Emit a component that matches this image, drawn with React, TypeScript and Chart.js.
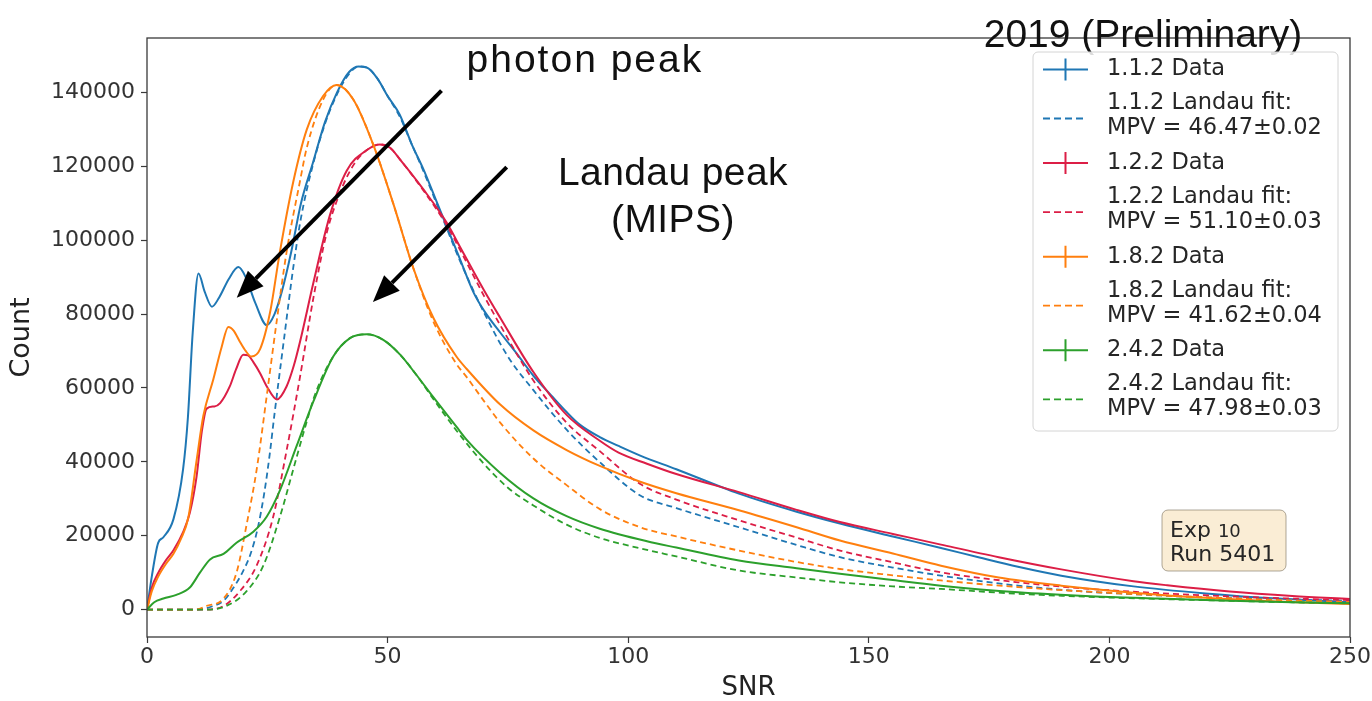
import React, { useEffect, useRef } from 'react';
import { Chart, registerables } from 'chart.js';

Chart.register(...registerables);

// ---- axis ticks ----
const xTicks = [0, 50, 100, 150, 200, 250];
const yTicks = [0, 20000, 40000, 60000, 80000, 100000, 120000, 140000];
const xRange = [0, 250];
const yRange = [-7400, 154700];

// ---- 1.1.2 ----
const snrData112 = [0, 1, 2.3, 3.4, 5.5, 7.5, 8.5, 9.5, 10.7, 12, 13.5, 15, 17, 19, 20.5, 22.5, 24.9, 26.5, 28, 30, 32, 34.5, 37, 39.5, 42, 44, 46, 48, 50, 52.5, 55, 57.5, 60, 62.5, 65, 67.8, 70, 73.4, 77, 80.3, 84, 87.2, 90, 94.1, 98, 102.5, 110, 123, 135, 144, 155, 165, 173, 181, 190, 205, 220, 235, 250];
const countData112 = [0, 9000, 18000, 19600, 24500, 38000, 52000, 75000, 91000, 86000, 82000, 84500, 89500, 92700, 90000, 83000, 77000, 80000, 86000, 97000, 110000, 121000, 132000, 140000, 145500, 147000, 146500, 143500, 139000, 134000, 126000, 119000, 111000, 103000, 95000, 86000, 81000, 75000, 69000, 63300, 58000, 53500, 50000, 46700, 44300, 41700, 38000, 31400, 26500, 23300, 19800, 16700, 14100, 11600, 9200, 6300, 4400, 3000, 2000];
const snrFit112 = [0, 10, 13.8, 16, 18, 20, 21.5, 23, 24.3, 25.5, 26.5, 28.5, 30.4, 32, 34.5, 37, 39.5, 42, 44, 46, 48, 50, 52.5, 55, 57.5, 60, 62.5, 65, 70, 75, 80.3, 87.2, 94.1, 102.5, 110, 123, 135, 144, 155, 165, 181, 195, 205, 220, 235, 250];
const countFit112 = [0, 0, 1000, 2500, 6000, 10500, 15000, 22000, 31000, 42000, 53000, 73500, 92600, 106000, 120500, 131500, 139500, 145000, 147000, 146500, 143500, 139000, 133500, 126000, 118500, 110500, 102500, 94500, 80500, 68500, 59400, 48700, 39900, 30900, 27500, 22300, 17500, 14200, 11400, 9200, 6500, 4900, 4200, 3300, 2800, 2400];

// ---- 1.2.2 ----
const snrData122 = [0, 1, 2.35, 4, 5.5, 7.5, 8.9, 10.3, 11.4, 12.4, 14, 15.2, 17.2, 18.5, 20, 21, 22.1, 23.5, 24.9, 27, 29, 30.5, 31.8, 34.6, 38, 41.5, 45.7, 48.4, 50.5, 52.6, 57.4, 62.3, 65, 70, 73.4, 80.3, 87.2, 94.1, 98, 103.9, 110, 123, 135, 144, 155, 165, 177, 190, 205, 212, 225, 238, 250];
const countData122 = [0, 6000, 10000, 13500, 16100, 21000, 26200, 36000, 48300, 54400, 55000, 55900, 60400, 65000, 69000, 68800, 67000, 64000, 60400, 56900, 60400, 66000, 72500, 88600, 106700, 118800, 124400, 125900, 125000, 121800, 113800, 104700, 98300, 86500, 79000, 64300, 52700, 45700, 42500, 39500, 36700, 31800, 27000, 23700, 20500, 17600, 14200, 10900, 7700, 6600, 4900, 3700, 2900];
const snrFit122 = [0, 12, 15.9, 19.3, 22.8, 26.2, 29, 31.8, 34.6, 37.3, 40, 43, 45.7, 48.4, 50.5, 52.6, 57.4, 62.3, 65, 70, 73.4, 80.3, 87.2, 94.1, 102.5, 110, 123, 135, 144, 155, 165, 181, 195, 210, 225, 238, 250];
const countFit122 = [0, 0, 1000, 5000, 12000, 25000, 43000, 63000, 84500, 101700, 112500, 120500, 124400, 125900, 125000, 121800, 113500, 104000, 97500, 85000, 77000, 62000, 50600, 42900, 34000, 29800, 24200, 19500, 16000, 12800, 10100, 7400, 5700, 4500, 3600, 3000, 2600];

// ---- 1.8.2 ----
const snrData182 = [0, 1, 2.35, 4, 5.5, 7, 8.6, 10.3, 11.7, 13.8, 15.5, 16.9, 18, 19.3, 20.5, 21.7, 23.5, 25.6, 27.6, 30.4, 33.2, 36.6, 39.4, 42.9, 47, 51.2, 55.3, 59.5, 64.3, 66.4, 73.4, 80.3, 87.2, 94.1, 102.5, 110, 123, 135, 144, 155, 165, 177, 190, 205, 220, 235, 250];
const countData182 = [0, 5000, 9000, 12500, 15100, 19000, 25000, 40300, 52400, 62400, 71000, 76500, 75500, 72500, 70000, 68500, 70500, 80600, 96700, 115800, 129900, 139000, 142000, 138000, 125900, 109800, 92600, 79000, 68500, 65200, 55500, 48500, 43200, 38900, 34600, 31500, 26900, 22300, 18700, 15200, 11900, 8700, 6500, 4600, 3200, 2200, 1500];
const snrFit182 = [0, 10, 12.4, 15.9, 18.6, 20.7, 22.8, 24.9, 27, 29, 31.8, 33.2, 36.6, 39.4, 42.9, 47, 51.2, 55.3, 59.5, 64.3, 66.4, 70, 73.4, 80.3, 87.2, 94.1, 102.5, 110, 123, 135, 144, 155, 165, 181, 195, 210, 225, 238, 250];
const countFit182 = [0, 0, 1000, 3000, 10000, 23000, 38000, 58000, 78500, 96700, 116000, 125000, 138000, 142000, 138000, 125900, 109800, 92600, 78000, 66500, 63000, 56500, 50600, 40900, 33700, 27200, 22300, 19800, 16000, 12900, 11000, 9300, 7900, 6100, 4900, 3900, 3100, 2500, 2100];

// ---- 2.4.2 ----
const snrData242 = [0, 1.5, 3.4, 6.1, 8.9, 11, 13.1, 15.9, 18.6, 22.1, 24.9, 27.6, 31.1, 34.6, 38.7, 42.2, 45.7, 49.1, 52.6, 56, 59.5, 64.3, 66.4, 73.4, 80.3, 87.2, 94.1, 103.9, 110, 123, 135, 144, 155, 165, 181, 195, 210, 225, 238, 250];
const countData242 = [0, 2000, 3000, 4000, 6000, 10000, 13600, 15100, 18100, 21100, 25200, 32200, 44300, 56400, 68500, 73500, 74500, 73000, 69000, 63500, 57500, 49500, 46000, 37000, 30100, 25300, 21900, 18500, 16800, 13300, 11200, 9700, 8000, 6500, 4700, 3700, 3000, 2400, 2000, 1700];
const snrFit242 = [0, 12, 16.5, 20.7, 24.2, 27.6, 30.4, 33, 35, 38.7, 42.2, 45.7, 49.1, 52.6, 56, 59.5, 64.3, 70, 75, 80.3, 87.2, 94.1, 102.5, 110, 123, 135, 144, 155, 165, 181, 195, 210, 225, 238, 250];
const countFit242 = [0, 0, 1000, 5000, 12000, 25000, 38000, 50000, 58500, 68500, 73500, 74500, 73000, 69000, 63500, 57000, 48500, 39500, 33000, 28200, 23000, 19400, 16600, 14400, 10600, 8700, 7400, 6300, 5600, 4300, 3500, 2900, 2400, 2000, 1700];

// ---- labels ----
const seriesNames = ['1.1.2', '1.2.2', '1.8.2', '2.4.2'];
const mpvLabels = ['MPV = 46.47\u00b10.02', 'MPV = 51.10\u00b10.03', 'MPV = 41.62\u00b10.04', 'MPV = 47.98\u00b10.03'];
const colors = ['#1f77b4', '#dc1e46', '#ff7f0e', '#2ca02c'];

// annotation anchors in data coordinates
const photonArrow = { fromX: 61.2, fromY: 140450, toX: 18.65, toY: 84400 };
const landauArrow = { fromX: 74.75, fromY: 119770, toX: 46.95, toY: 83240 };
const photonText = { x: 91.0, y: 145600, text: 'photon peak', spacing: '2px' };
const landauText1 = { x: 109.3, y: 114900, text: 'Landau peak', spacing: '0.4px' };
const landauText2 = { x: 109.3, y: 102300, text: '(MIPS)', spacing: '0.4px' };

const zip = (xs: number[], ys: number[]) => xs.map((x, i) => ({ x, y: ys[i] }));

function drawArrow(ctx: CanvasRenderingContext2D, x1: number, y1: number, x2: number, y2: number) {
  const ang = Math.atan2(y2 - y1, x2 - x1);
  const headLen = 27;
  const headHalf = 11;
  const bx = x2 - headLen * Math.cos(ang);
  const by = y2 - headLen * Math.sin(ang);
  ctx.strokeStyle = '#000';
  ctx.fillStyle = '#000';
  ctx.lineWidth = 4;
  ctx.lineCap = 'butt';
  ctx.setLineDash([]);
  ctx.beginPath();
  ctx.moveTo(x1, y1);
  ctx.lineTo(bx, by);
  ctx.stroke();
  ctx.beginPath();
  ctx.moveTo(x2, y2);
  ctx.lineTo(bx + headHalf * Math.sin(ang), by - headHalf * Math.cos(ang));
  ctx.lineTo(bx - headHalf * Math.sin(ang), by + headHalf * Math.cos(ang));
  ctx.closePath();
  ctx.fill();
}

const overlayPlugin = {
  id: 'overlay',
  afterDatasetsDraw(chart: any) {
    const { ctx, chartArea: a, scales } = chart;
    const xs = scales.x;
    const ys = scales.y;
    ctx.save();
    // frame
    ctx.strokeStyle = '#3a3a3a';
    ctx.lineWidth = 1.3;
    ctx.setLineDash([]);
    ctx.strokeRect(a.left, a.top, a.right - a.left, a.bottom - a.top);

    // arrows
    for (const ar of [photonArrow, landauArrow]) {
      drawArrow(
        ctx,
        xs.getPixelForValue(ar.fromX),
        ys.getPixelForValue(ar.fromY),
        xs.getPixelForValue(ar.toX),
        ys.getPixelForValue(ar.toY)
      );
    }

    // annotation texts
    ctx.fillStyle = '#111';
    ctx.font = '39px "Liberation Sans", Arial, sans-serif';
    ctx.textAlign = 'center';
    ctx.textBaseline = 'alphabetic';
    for (const t of [photonText, landauText1, landauText2]) {
      (ctx as any).letterSpacing = t.spacing;
      ctx.fillText(t.text, xs.getPixelForValue(t.x), ys.getPixelForValue(t.y));
    }
    (ctx as any).letterSpacing = '0px';
    ctx.restore();
  },
  afterDraw(chart: any) {
    const { ctx, chartArea: a } = chart;
    ctx.save();
    // note above the frame
    ctx.fillStyle = '#111';
    ctx.font = '39px "Liberation Sans", Arial, sans-serif';
    ctx.textAlign = 'center';
    ctx.textBaseline = 'alphabetic';
    ctx.fillText('2019 (Preliminary)', a.right - 207, a.top + 9);

    // legend
    const bx = a.right - 317;
    const by = a.top + 14;
    const bw = 305;
    const bh = 379;
    ctx.beginPath();
    ctx.roundRect(bx, by, bw, bh, 5);
    ctx.fillStyle = 'rgba(255,255,255,0.85)';
    ctx.fill();
    ctx.strokeStyle = '#d4d4d4';
    ctx.lineWidth = 1;
    ctx.stroke();

    ctx.font = '22.5px "DejaVu Sans", sans-serif';
    ctx.textAlign = 'left';
    ctx.textBaseline = 'middle';
    for (let i = 0; i < seriesNames.length; i++) {
      const base = a.top + 31.5 + i * 93.6;
      const c = colors[i];
      // data handle: line with error-bar cross
      ctx.strokeStyle = c;
      ctx.lineWidth = 2;
      ctx.setLineDash([]);
      ctx.beginPath();
      ctx.moveTo(bx + 10, base);
      ctx.lineTo(bx + 55, base);
      ctx.moveTo(bx + 32.5, base - 11);
      ctx.lineTo(bx + 32.5, base + 11);
      ctx.stroke();
      // fit handle: dashed
      ctx.lineWidth = 1.8;
      ctx.setLineDash([7, 4]);
      ctx.beginPath();
      ctx.moveTo(bx + 10, base + 49);
      ctx.lineTo(bx + 53, base + 49);
      ctx.stroke();
      ctx.setLineDash([]);
      ctx.fillStyle = '#262626';
      ctx.fillText(seriesNames[i] + ' Data', bx + 74, base);
      ctx.fillText(seriesNames[i] + ' Landau fit:', bx + 74, base + 34);
      ctx.fillText(mpvLabels[i], bx + 74, base + 59);
    }

    // Exp / Run box
    const ex = a.right - 188;
    const ey = a.top + 472;
    ctx.beginPath();
    ctx.roundRect(ex, ey, 124, 61, 6);
    ctx.fillStyle = 'rgba(245,222,179,0.55)';
    ctx.fill();
    ctx.strokeStyle = 'rgba(120,110,90,0.6)';
    ctx.lineWidth = 1;
    ctx.stroke();
    ctx.fillStyle = '#262626';
    ctx.textBaseline = 'alphabetic';
    ctx.font = '22px "DejaVu Sans", sans-serif';
    ctx.fillText('Exp', ex + 8, ey + 27);
    const w = ctx.measureText('Exp ').width;
    ctx.font = '18px "DejaVu Sans", sans-serif';
    ctx.fillText('10', ex + 8 + w, ey + 27);
    ctx.font = '22px "DejaVu Sans", sans-serif';
    ctx.fillText('Run 5401', ex + 8, ey + 51);
    ctx.restore();
  },
};

export default function App() {
  const canvasRef = useRef<HTMLCanvasElement | null>(null);

  useEffect(() => {
    const canvas = canvasRef.current;
    if (!canvas) return;
    Chart.defaults.font.family = '"DejaVu Sans", sans-serif';

    const groups = [
      [snrData112, countData112, snrFit112, countFit112],
      [snrData122, countData122, snrFit122, countFit122],
      [snrData182, countData182, snrFit182, countFit182],
      [snrData242, countData242, snrFit242, countFit242],
    ];
    const datasets: any[] = [];
    groups.forEach((g, i) => {
      datasets.push({
        label: seriesNames[i] + ' Data',
        data: zip(g[0], g[1]),
        borderColor: colors[i],
        borderWidth: 2,
        pointRadius: 0,
        fill: false,
        cubicInterpolationMode: 'monotone',
        order: 20 - datasets.length,
      });
      datasets.push({
        label: seriesNames[i] + ' Landau fit',
        data: zip(g[2], g[3]),
        borderColor: colors[i],
        borderWidth: 1.8,
        borderDash: [6, 4],
        pointRadius: 0,
        fill: false,
        cubicInterpolationMode: 'monotone',
        order: 20 - datasets.length,
      });
    });

    const chart = new Chart(canvas, {
      type: 'line',
      data: { datasets },
      options: {
        responsive: false,
        animation: false,
        layout: { padding: { left: 0, right: 22, top: 38, bottom: 0 } },
        plugins: {
          legend: { display: false },
          tooltip: { enabled: false },
        },
        scales: {
          x: {
            type: 'linear',
            min: xRange[0],
            max: xRange[1],
            afterBuildTicks: (s: any) => {
              s.ticks = xTicks.map((v) => ({ value: v }));
            },
            afterFit: (s: any) => {
              s.height = 64;
            },
            grid: { drawOnChartArea: false, drawTicks: true, tickLength: 6, tickColor: '#3a3a3a', tickWidth: 1.2 },
            border: { display: false },
            ticks: {
              color: '#333',
              font: { size: 22 },
              padding: 1,
              maxRotation: 0,
              callback: (v: any) => String(v),
            },
            title: {
              display: true,
              text: 'SNR',
              color: '#222',
              font: { size: 26, lineHeight: 1 },
              padding: { top: 0, bottom: 0 },
            },
          },
          y: {
            type: 'linear',
            min: yRange[0],
            max: yRange[1],
            afterBuildTicks: (s: any) => {
              s.ticks = yTicks.map((v) => ({ value: v }));
            },
            afterFit: (s: any) => {
              s.width = 147;
            },
            grid: { drawOnChartArea: false, drawTicks: true, tickLength: 6, tickColor: '#3a3a3a', tickWidth: 1.2 },
            border: { display: false },
            ticks: {
              color: '#333',
              font: { size: 22 },
              padding: 6,
              callback: (v: any) => String(v),
            },
            title: {
              display: true,
              text: 'Count',
              color: '#222',
              font: { size: 27, lineHeight: 1 },
              padding: { top: 8, bottom: 0 },
            },
          },
        },
      },
      plugins: [overlayPlugin],
    });
    return () => chart.destroy();
  }, []);

  return (
    <div style={{ position: 'fixed', left: 0, top: 0, width: 1372, height: 701, background: '#fff' }}>
      <canvas ref={canvasRef} width={1372} height={701} style={{ display: 'block' }} />
    </div>
  );
}
